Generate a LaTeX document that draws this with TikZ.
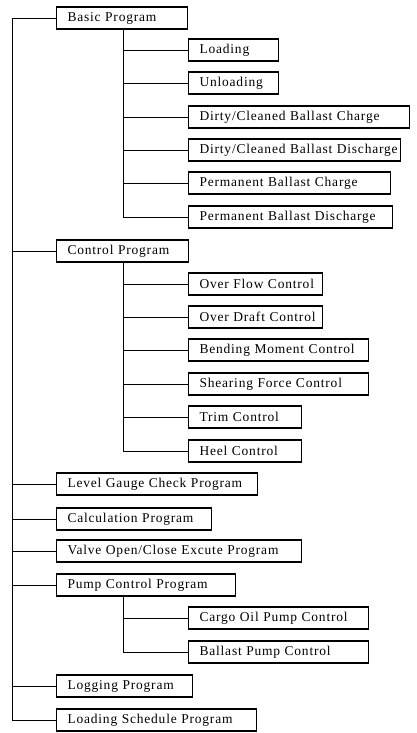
\documentclass[tikz,border=0pt]{standalone}
\usepackage{fontspec}
\setmainfont{Liberation Serif}
\usetikzlibrary{positioning,calc}
\tikzset{
  prog/.style={draw, line width=0.9pt, anchor=west, minimum height=0.66cm, inner xsep=0.33cm, inner ysep=0pt, align=left,
    font=\fontsize{11.5}{13}\selectfont\addfontfeatures{LetterSpace=6},
    execute at begin node=\hbox\bgroup, execute at end node=\egroup},
  wd/.code={\pgfmathsetmacro\boxtw{#1*0.03-0.66}\tikzset{text width=\boxtw cm}},
  link/.style={line width=0.7pt},
}

\begin{document}
\begin{tikzpicture}[x=0.03cm, y=-0.03cm]
  \useasboundingbox (0,0) rectangle (416,733);
  \coordinate (trunk) at (12,0);
  \coordinate (sub) at (123,0);

  % main programs
  \node[prog, wd=131] (basic) at (56,18) {Basic Program};
  \node[prog, wd=132] (ctrl) at (56,251) {Control Program};
  \node[prog, wd=201] (gauge) at (56,484) {Level Gauge Check Program};
  \node[prog, wd=155] (calcp) at (56,519) {Calculation Program};
  \node[prog, wd=245] (valve) at (56,551) {Valve Open/Close Excute Program};
  \node[prog, wd=179] (pump) at (56,585) {Pump Control Program};
  \node[prog, wd=136] (logp) at (56,686) {Logging Program};
  \node[prog, wd=200] (sched) at (56,720) {Loading Schedule Program};

  % sub programs
  \foreach \name/\txt/\y/\w in {load/Loading/50/90, unload/Unloading/83/90,
      dcc/{Dirty/Cleaned Ballast Charge}/117/221, dcd/{Dirty/Cleaned Ballast Discharge}/150/212,
      pbc/Permanent Ballast Charge/183/202, pbd/Permanent Ballast Discharge/217/204,
      ofc/Over Flow Control/284/134, odc/Over Draft Control/317/134,
      bmc/Bending Moment Control/350/180, sfc/Shearing Force Control/384/180,
      trim/Trim Control/417/113, heel/Heel Control/451/113,
      cop/Cargo Oil Pump Control/618/180, bpc/Ballast Pump Control/652/180}{
    \node[prog, wd=\w] (\name) at (188,\y) {\txt};
  }

  \draw[link] (basic.west) -- (basic.west -| trunk) |- (sched.west);
  \foreach \n in {ctrl,gauge,calcp,valve,pump,logp}
    \draw[link] (\n.west) -- (\n.west -| trunk);

  \draw[link] (basic.south -| sub) |- (pbd.west);
  \foreach \n in {load,unload,dcc,dcd,pbc}
    \draw[link] (\n.west) -- (\n.west -| sub);
  \draw[link] (ctrl.south -| sub) |- (heel.west);
  \foreach \n in {ofc,odc,bmc,sfc,trim}
    \draw[link] (\n.west) -- (\n.west -| sub);
  \draw[link] (pump.south -| sub) |- (bpc.west);
  \draw[link] (cop.west) -- (cop.west -| sub);
\end{tikzpicture}
\end{document}
